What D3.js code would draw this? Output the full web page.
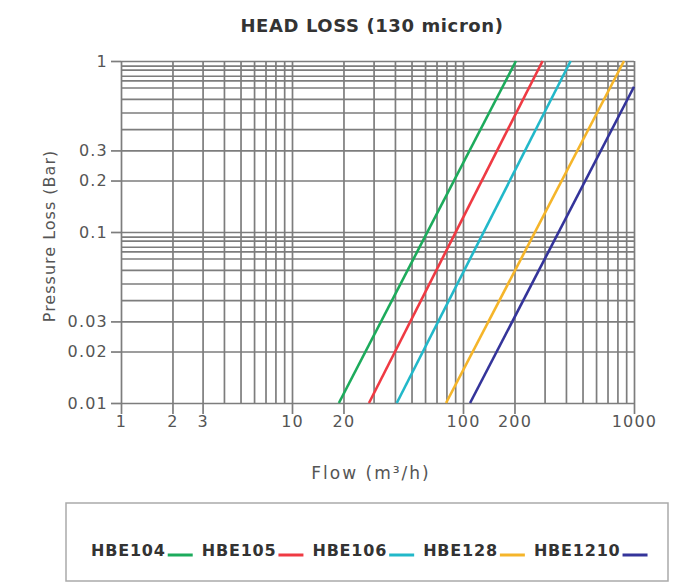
<!DOCTYPE html>
<html>
<head>
<meta charset="utf-8">
<script src="https://cdn.jsdelivr.net/npm/d3@7"></script>
<style>
  body { margin: 0; background: #fff; }
  svg { display: block; }
  .grid line { stroke: #7d7d7d; stroke-width: 1.7; }
  .grid path { display: none; }
  .axis path { display: none; }
  .axis line { stroke: #7d7d7d; stroke-width: 1.7; }
  .axis text { font-family: "DejaVu Sans", sans-serif; font-size: 16px; fill: #555; letter-spacing: 1.2px; }
</style>
</head>
<body>
<div id="chart"></div>
<script>
// series (flow m3/h, pressure loss bar) - straight lines on log-log
var series = ["HBE104", "HBE105", "HBE106", "HBE128", "HBE1210"];
var colors = ["#1dab5c", "#ef3a43", "#22b8c9", "#f5b52a", "#34349a"];
var flowStart = [18.8, 28.2, 41, 79.6, 110];
var flowEnd = [204, 292, 426, 874, 1000];
var lossStart = [0.01, 0.01, 0.01, 0.01, 0.01];
var lossEnd = [1, 1, 1, 1, 0.707];

// tick labels
var xTickLabels = [1, 2, 3, 10, 20, 100, 200, 1000];
var yTickLabels = [1, 0.3, 0.2, 0.1, 0.03, 0.02, 0.01];
// horizontal grid lines as drawn in the original (odd minor spacing)
var yGridTop = [1, 0.94, 0.89, 0.82, 0.77, 0.7, 0.6, 0.5, 0.4, 0.3, 0.2];
var yGridBottom = [0.1, 0.094, 0.089, 0.082, 0.077, 0.07, 0.06, 0.05, 0.04, 0.03, 0.02, 0.01];

var W = 697, H = 583;
var margin = {top: 61, right: 63, bottom: 180, left: 121};
var width = W - margin.left - margin.right;
var height = H - margin.top - margin.bottom;

var svg = d3.select("#chart")
  .append("svg")
  .attr("width", W)
  .attr("height", H);

var g = svg.append("g")
  .attr("transform", "translate(" + margin.left + "," + margin.top + ")");

var xScale = d3.scaleLog().domain([1, 1000]).range([0, width]);
var yScale = d3.scaleLog().domain([0.01, 1]).range([height, 0]);

// vertical grid
g.append("g")
  .attr("class", "grid")
  .attr("transform", "translate(0," + height + ")")
  .call(d3.axisBottom(xScale)
    .tickValues(xScale.ticks())
    .tickSize(-height)
    .tickFormat(""));

// horizontal grid
g.append("g")
  .attr("class", "grid")
  .call(d3.axisLeft(yScale)
    .tickValues(yGridTop.concat(yGridBottom))
    .tickSize(-width)
    .tickFormat(""));

// axes (ticks + labels)
g.append("g")
  .attr("class", "axis")
  .attr("transform", "translate(0," + height + ")")
  .call(d3.axisBottom(xScale)
    .tickValues(xTickLabels)
    .tickSize(11)
    .tickPadding(2)
    .tickFormat(function(d) { return d; }));

g.append("g")
  .attr("class", "axis")
  .call(d3.axisLeft(yScale)
    .tickValues(yTickLabels)
    .tickSize(10)
    .tickPadding(3)
    .tickFormat(function(d) { return d; }));

// lines
var line = d3.line()
  .x(function(d) { return xScale(d[0]); })
  .y(function(d) { return yScale(d[1]); });

series.forEach(function(name, i) {
  g.append("path")
    .datum([[flowStart[i], lossStart[i]], [flowEnd[i], lossEnd[i]]])
    .attr("fill", "none")
    .attr("stroke", colors[i])
    .attr("stroke-width", 2.6)
    .attr("d", line);
});

// title
svg.append("text")
  .attr("x", 372)
  .attr("y", 32)
  .attr("text-anchor", "middle")
  .style("font-family", "DejaVu Sans, sans-serif")
  .style("font-weight", "bold")
  .style("font-size", "18px")
  .style("letter-spacing", "0.6px")
  .style("fill", "#333")
  .text("HEAD LOSS (130 micron)");

// axis titles
svg.append("text")
  .attr("x", 371)
  .attr("y", 479)
  .attr("text-anchor", "middle")
  .style("font-family", "DejaVu Sans, sans-serif")
  .style("font-size", "17px")
  .style("letter-spacing", "2px")
  .style("fill", "#555")
  .text("Flow (m³/h)");

svg.append("text")
  .attr("transform", "translate(55,236) rotate(-90)")
  .attr("text-anchor", "middle")
  .style("font-family", "DejaVu Sans, sans-serif")
  .style("font-size", "16px")
  .style("letter-spacing", "1px")
  .style("fill", "#555")
  .text("Pressure Loss (Bar)");

// legend
var legend = svg.append("g");
legend.append("rect")
  .attr("x", 66)
  .attr("y", 503)
  .attr("width", 602)
  .attr("height", 78)
  .attr("fill", "#fff")
  .attr("stroke", "#aaa")
  .attr("stroke-width", 1.5);

var lx = 91;
series.forEach(function(name, i) {
  var t = legend.append("text")
    .attr("x", lx)
    .attr("y", 556)
    .style("font-family", "DejaVu Sans, sans-serif")
    .style("font-weight", "bold")
    .style("font-size", "16px")
    .style("letter-spacing", "0.8px")
    .style("fill", "#333")
    .text(name);
  var tw = t.node().getComputedTextLength();
  lx += tw + 2;
  legend.append("line")
    .attr("x1", lx).attr("x2", lx + 25)
    .attr("y1", 555).attr("y2", 555)
    .attr("stroke", colors[i])
    .attr("stroke-width", 3);
  lx += 25 + 9;
});
</script>
</body>
</html>
